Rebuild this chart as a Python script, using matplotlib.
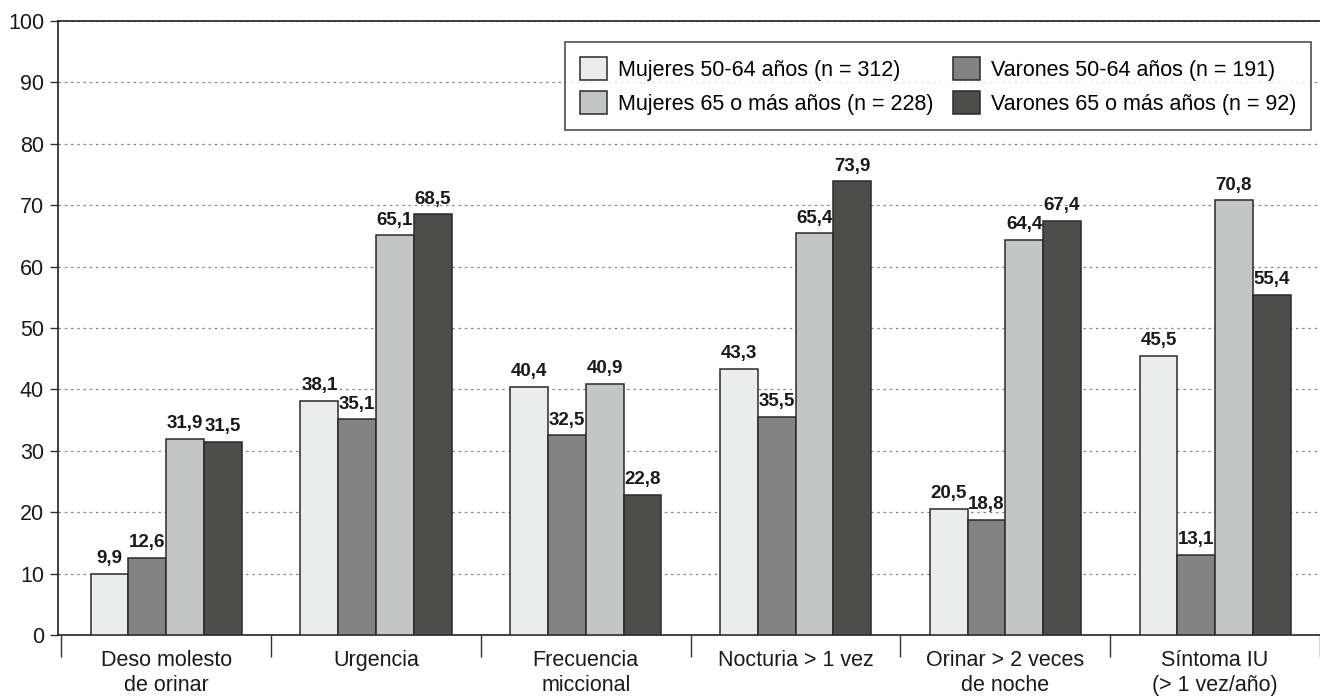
import matplotlib.pyplot as plt
import numpy as np

plt.rcParams['font.family'] = ['Liberation Sans', 'DejaVu Sans']

categories = ['Deso molesto\nde orinar', 'Urgencia', 'Frecuencia\nmiccional',
              'Nocturia > 1 vez', 'Orinar > 2 veces\nde noche', 'Síntoma IU\n(> 1 vez/año)']
series_names = ['Mujeres 50-64 años (n = 312)', 'Varones 50-64 años (n = 191)',
                'Mujeres 65 o más años (n = 228)', 'Varones 65 o más años (n = 92)']
mujeres_50_64 = [9.9, 38.1, 40.4, 43.3, 20.5, 45.5]
varones_50_64 = [12.6, 35.1, 32.5, 35.5, 18.8, 13.1]
mujeres_65 = [31.9, 65.1, 40.9, 65.4, 64.4, 70.8]
varones_65 = [31.5, 68.5, 22.8, 73.9, 67.4, 55.4]
y_ticks = [0, 10, 20, 30, 40, 50, 60, 70, 80, 90, 100]

colors = ['#ebedec', '#838383', '#c4c6c5', '#4d4d4b']
series = [mujeres_50_64, varones_50_64, mujeres_65, varones_65]

fig = plt.figure(figsize=(13.2, 6.99), dpi=100)
ax = fig.add_axes([58/1320, 64/699, 1262/1320, 614/699])

x = np.arange(len(categories))
w = 0.18
bars = []
for i, (vals, col) in enumerate(zip(series, colors)):
    b = ax.bar(x + (i - 1.5) * w, vals, w, color=col, edgecolor='#2a2a2a',
               linewidth=1.1, label=series_names[i], zorder=3)
    bars.append(b)
    for xi, v in zip(x + (i - 1.5) * w, vals):
        ax.text(xi, v + 1.1, ('%.1f' % v).replace('.', ','), ha='center', va='bottom',
                fontsize=13.5, fontweight='bold', color='#1a1a1a', zorder=4)

ax.set_xlim(-0.516, 5.426)
ax.set_ylim(0, 100)
ax.set_yticks(y_ticks)
ax.set_yticklabels([str(t) for t in y_ticks], fontsize=15.5, color='#1a1a1a')
ax.yaxis.grid(True, linestyle=(0, (2, 3)), color='#888888', linewidth=0.9, zorder=0)

ax.set_xticks(x)
ax.set_xticklabels(categories, fontsize=15.5, color='#1a1a1a', linespacing=1.22)
ax.tick_params(axis='x', length=0, pad=11)
ax.set_xticks(np.arange(len(categories) + 1) - 0.5, minor=True)
ax.tick_params(axis='x', which='minor', length=16, width=1.0, color='#333333')
ax.tick_params(axis='y', length=6, width=1.0, color='#333333', pad=4)

for s in ['left', 'top', 'bottom']:
    ax.spines[s].set_color('#222222')
    ax.spines[s].set_linewidth(1.2)
ax.spines['right'].set_visible(False)

handles = [bars[0], bars[2], bars[1], bars[3]]
labels = [series_names[0], series_names[2], series_names[1], series_names[3]]
leg = ax.legend(handles, labels, ncol=2, loc='upper right', bbox_to_anchor=(0.993, 0.966),
                fontsize=15.5, frameon=True, fancybox=False, edgecolor='#222222',
                handlelength=1.25, handleheight=1.25, handletextpad=0.5, columnspacing=0.9,
                borderpad=0.7, labelspacing=0.5, borderaxespad=0)
leg.get_frame().set_linewidth(1.2)

fig.savefig('out.png', dpi=100)
